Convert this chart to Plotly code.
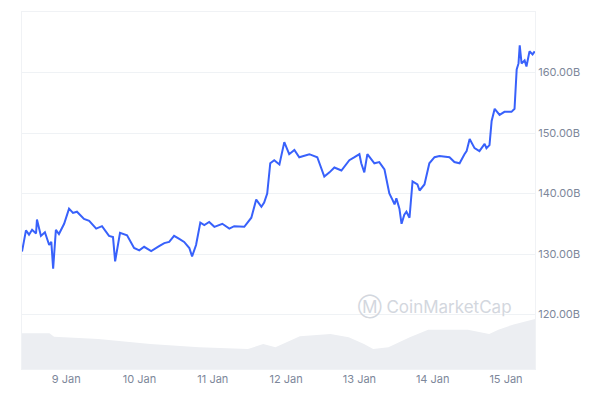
import pandas as pd
import plotly.graph_objects as go

# hours after 2024-01-08 09:30 and market cap in billions
price_hours = [0, 1.3, 2.3, 3.3, 4.6, 4.9, 6.2, 7.5, 8.9, 9.6, 10.2, 11.1, 12.1, 13.8, 15.4, 16.7, 18, 20.3, 22,
               24.3, 26.2, 28.5, 29.8, 30.5, 32.1, 34.4, 36.7, 38.4, 40, 42.3, 44.9, 46.6, 48.2, 49.8, 51.5, 53.1,
               54.8, 55.7, 57, 58.4, 59.7, 61.3, 63, 65.6, 67.9, 69.5, 72.8, 75.1, 76.7, 78.4, 79.3, 80.3, 81.3,
               82.6, 84.3, 85.9, 87.5, 89.2, 90.8, 94.1, 96.7, 99, 100.7, 102.3, 104.6, 107.2, 108.9, 110.5, 111.1,
               112.1, 113.1, 115.4, 117, 118.7, 119.7, 120.3, 121.3, 122, 122.6, 123.6, 124.3, 125.2, 125.9, 126.9,
               127.9, 129.5, 130.2, 131.8, 133.4, 135.1, 136.7, 140, 141.6, 143.3, 144.9, 145.6, 146.6, 148.2,
               149.8, 151.5, 152.1, 153.1, 153.8, 154.8, 156.4, 158, 160.3, 161.3, 162, 162.6, 163, 163.6, 164.6,
               165.2, 166.2, 167.2, 167.9]
price_values = [130.4, 133.9, 133.2, 134.0, 133.4, 135.7, 133.0, 133.6, 131.5, 132.0, 127.6, 134.0, 133.3, 135.0,
                137.5, 136.8, 137.0, 135.8, 135.5, 134.2, 134.6, 133.0, 132.8, 128.8, 133.5, 133.1, 131.0, 130.6,
                131.2, 130.5, 131.3, 131.8, 132.0, 133.0, 132.5, 132.0, 131.0, 129.6, 131.5, 135.2, 134.8, 135.3,
                134.5, 135.0, 134.2, 134.6, 134.5, 136.0, 139.0, 137.8, 138.5, 140.0, 145.0, 145.5, 144.8, 148.5,
                146.5, 147.2, 146.0, 146.5, 146.0, 142.8, 143.5, 144.3, 143.8, 145.5, 146.0, 146.5, 145.0, 143.5,
                146.5, 145.0, 145.2, 144.0, 141.5, 140.0, 139.0, 138.2, 139.2, 137.5, 135.0, 136.5, 137.0, 136.0,
                142.0, 141.5, 140.5, 141.5, 145.0, 146.0, 146.2, 146.0, 145.2, 145.0, 146.5, 147.0, 149.0, 147.5,
                147.0, 148.2, 147.5, 148.0, 152.0, 154.0, 153.0, 153.5, 153.5, 154.0, 160.5, 161.5, 164.5, 161.5,
                162.0, 161.0, 163.5, 163.0, 163.5]

# trading volume (relative units)
vol_hours = [0, 9, 10.5, 25, 42, 58, 74, 79, 83, 91, 101, 107, 112, 115, 120, 127, 133, 146, 153, 156, 161, 168]
vol_values = [10, 10, 9, 8.4, 7, 6.1, 5.6, 7, 6.1, 9.2, 9.8, 8.9, 7, 5.6, 6.1, 8.9, 11, 11, 9.8, 11, 12.5, 14]

start = pd.Timestamp("2024-01-08 09:30")
price_t = [start + pd.Timedelta(hours=h) for h in price_hours]
vol_t = [start + pd.Timedelta(hours=h) for h in vol_hours]

fig = go.Figure()
fig.add_trace(go.Scatter(x=vol_t, y=vol_values, yaxis="y2", mode="lines", fill="tozeroy",
                         line=dict(width=0, color="#eceef2"), fillcolor="#eceef2", hoverinfo="skip"))
fig.add_trace(go.Scatter(x=price_t, y=price_values, mode="lines", line=dict(color="#3861fb", width=2)))

fig.update_layout(
    width=600, height=400, showlegend=False,
    paper_bgcolor="white", plot_bgcolor="white",
    margin=dict(l=14, r=73, t=4, b=39),
    font=dict(family="Inter", size=11, color="#7d879a"),
    xaxis=dict(range=[start, start + pd.Timedelta(hours=168)], showgrid=False,
               tickvals=[pd.Timestamp(f"2024-01-{d:02d}") for d in range(9, 16)],
               ticktext=[f"{d} Jan" for d in range(9, 16)],
               showline=True, linecolor="#f0f2f5", mirror=True, ticks=""),
    yaxis=dict(side="right", range=[111, 170], tickvals=[120, 130, 140, 150, 160],
               ticktext=["120.00B", "130.00B", "140.00B", "150.00B", "160.00B"],
               gridcolor="#eff2f5", zeroline=False, showline=True, linecolor="#f0f2f5", mirror=True),
    yaxis2=dict(overlaying="y", range=[0, 100], visible=False),
)
fig.add_annotation(x=0.96, y=0.135, xref="paper", yref="paper", showarrow=False,
                   text="Ⓜ CoinMarketCap", font=dict(size=17, color="#d3d7de"), xanchor="right")

fig.write_html("out.html")
